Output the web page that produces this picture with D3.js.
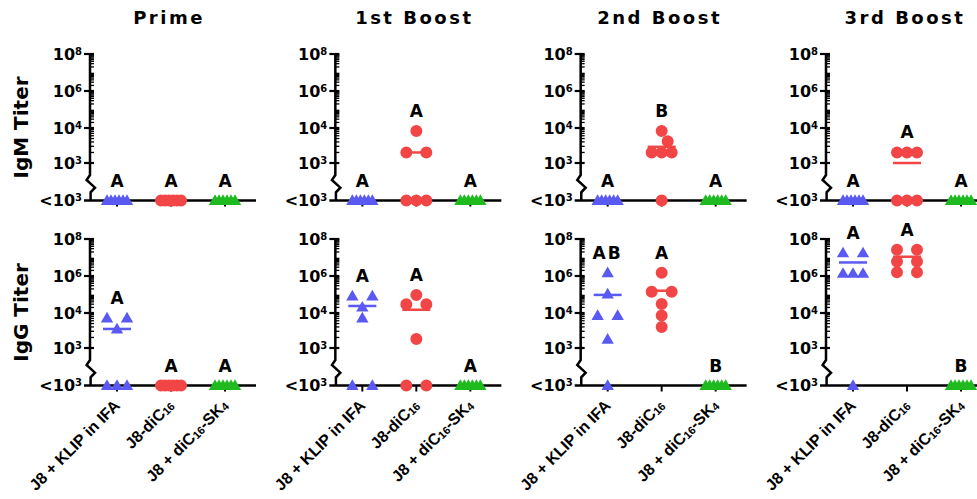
<!DOCTYPE html>
<html>
<head>
<meta charset="utf-8">
<script src="https://cdn.jsdelivr.net/npm/d3@7"></script>
<style>
  body { margin: 0; background: #fff; }
  text { font-family: "DejaVu Sans", sans-serif; font-weight: bold; fill: #000; }
</style>
</head>
<body>
<svg id="chart" width="977" height="499"></svg>
<script>
// immunisation time points (panels) and vaccine groups
const panels = ['Prime', '1st Boost', '2nd Boost', '3rd Boost'];
const groups = ['klip', 'diC16', 'sk4'];
const isotypes = ['IgM Titer', 'IgG Titer'];

// titres for six mice per group, one row per panel; 0 = below detection (<10^3)
const igmKlip  = [[0,0,0,0,0,0], [0,0,0,0,0,0], [0,0,0,0,0,0], [0,0,0,0,0,0]];
const igmDiC16 = [[0,0,0,0,0,0], [8200,2000,2000,0,0,0], [8200,4200,2000,2000,2000,0], [2000,2000,2000,0,0,0]];
const igmSk4   = [[0,0,0,0,0,0], [0,0,0,0,0,0], [0,0,0,0,0,0], [0,0,0,0,0,0]];

const iggKlip  = [[7200,7200,3500,0,0,0], [83000,83000,21000,7200,0,0],
                  [1500000,107000,8500,8500,1800,0], [18000000,18000000,1400000,1400000,1400000,0]];
const iggDiC16 = [[0,0,0,0,0,0], [94000,30000,30000,1800,0,0],
                  [1500000,140000,140000,31000,8500,4000], [26000000,26000000,6100000,6100000,1600000,1600000]];
const iggSk4   = [[0,0,0,0,0,0], [0,0,0,0,0,0], [0,0,0,0,0,0], [0,0,0,0,0,0]];

// group mean lines [klip, diC16, sk4] per panel
const igmMeans = [[0,0,0], [0,2000,0], [0,2900,0], [0,1000,0]];
const iggMeans = [[3500,0,0], [24000,15000,0], [95000,160000,0], [5400000,11000000,0]];

// statistics letters
const igmLetters = [['A','A','A'], ['A','A','A'], ['A','B','A'], ['A','A','A']];
const iggLetters = [['A','A','A'], ['A','A','A'], ['AB','A','B'], ['A','A','B']];

// y axis ticks; LOD stands for the "<10^3" row
const LOD = 100;
const tickValues = [1e8, 1e6, 1e4, 1e3, LOD];
const tickBase = ['10', '10', '10', '10', '<10'];
const tickSup = ['8', '6', '4', '3', '3'];

const colors = { klip: '#5a5af2', diC16: '#f24646', sk4: '#1fba1f' };
const shapes = { klip: d3.symbolTriangle, diC16: d3.symbolCircle, sk4: d3.symbolTriangle };
const sizes = { klip: 66, diC16: 113, sk4: 66 };

const dataSets = [
  { values: { klip: igmKlip, diC16: igmDiC16, sk4: igmSk4 }, means: igmMeans, letters: igmLetters },
  { values: { klip: iggKlip, diC16: iggDiC16, sk4: iggSk4 }, means: iggMeans, letters: iggLetters }
];

const svg = d3.select('#chart');
const rowTop = [54, 239];

const px = d3.scalePoint().domain(panels).range([90, 826]);
const x = d3.scalePoint().domain(groups).range([0, 162]).padding(0.5);
const y = d3.scaleLog().domain([LOD, 1e3, 1e4, 1e8]).range([146.5, 109, 74, 0]);
const yv = v => y(Math.max(v, LOD));

// minor ticks 2..9 x 10^k
const minor = [];
for (let k = 3; k < 8; k++) for (let m = 2; m < 10; m++) minor.push(m * Math.pow(10, k));

// spread points of equal value side by side, nudge rows that collide
function spread(values) {
  const rows = d3.groups(values, v => v).sort((a, b) => b[0] - a[0]);
  const placed = [];
  rows.forEach(([v, arr]) => {
    const k = arr.length, yy = yv(v);
    const s = k > 1 ? Math.min(20, 20 / (k - 1)) : 0;
    const base = d3.range(k).map(i => (i - (k - 1) / 2) * s);
    let c = 0;
    for (const cand of [0, 6, -6, 12, -12]) {
      const ok = base.every(b => placed.every(p => Math.hypot(p.dx - (b + cand), p.y - yy) >= 10.5));
      if (ok) { c = cand; break; }
    }
    base.forEach(b => placed.push({ v, y: yy, dx: b + c }));
  });
  return placed;
}

// panel titles
svg.selectAll('.title')
  .data(panels)
  .enter()
  .append('text')
  .attr('x', d => px(d) + 79)
  .attr('y', 24)
  .attr('text-anchor', 'middle')
  .style('font-size', '18px')
  .style('letter-spacing', '2.5px')
  .text(d => d);

// row titles
isotypes.forEach((name, r) => {
  svg.append('text')
    .attr('transform', `translate(27.5,${rowTop[r] + 73.5}) rotate(-90)`)
    .attr('text-anchor', 'middle')
    .style('font-size', '20px')
    .text(name);
});

dataSets.forEach((ds, r) => {
  panels.forEach((panel, p) => {
    const g = svg.append('g')
      .attr('transform', `translate(${px(panel)},${rowTop[r]})`);

    // y axis with a break above the <10^3 row
    g.append('path')
      .attr('d', `M0,${y(1e8)}V${y(1e3) + 12}l-3.4,5l8.4,7.7l-4.4,4.6V${y(LOD)}`)
      .attr('fill', 'none')
      .attr('stroke', '#000')
      .attr('stroke-width', 2.5);

    g.selectAll('.minor')
      .data(minor)
      .enter()
      .append('line')
      .attr('x1', 0).attr('x2', 4)
      .attr('y1', d => y(d)).attr('y2', d => y(d))
      .attr('stroke', '#000')
      .attr('stroke-width', 1.3);

    g.selectAll('.major')
      .data(tickValues.slice(0, 4))
      .enter()
      .append('line')
      .attr('x1', -6).attr('x2', 4)
      .attr('y1', d => y(d)).attr('y2', d => y(d))
      .attr('stroke', '#000')
      .attr('stroke-width', 2.2);

    // baseline (<10^3 row)
    g.append('line')
      .attr('x1', -6).attr('x2', 166)
      .attr('y1', y(LOD)).attr('y2', y(LOD))
      .attr('stroke', '#000')
      .attr('stroke-width', 2.5);

    g.selectAll('.xtick')
      .data(groups)
      .enter()
      .append('line')
      .attr('x1', d => x(d)).attr('x2', d => x(d))
      .attr('y1', y(LOD)).attr('y2', y(LOD) + 6)
      .attr('stroke', '#000')
      .attr('stroke-width', 2);

    const labels = g.selectAll('.ylab')
      .data(tickValues)
      .enter()
      .append('text')
      .attr('x', -8)
      .attr('y', d => y(d) + 5.8)
      .attr('text-anchor', 'end')
      .style('font-size', '16px');
    labels.append('tspan').text((d, i) => tickBase[i]);
    labels.append('tspan')
      .attr('dy', -5)
      .style('font-size', '10px')
      .text((d, i) => tickSup[i]);

    // mean lines
    g.selectAll('.mean')
      .data(groups.map((grp, i) => ({ grp, m: ds.means[p][i] })).filter(d => d.m > 0))
      .enter()
      .append('line')
      .attr('x1', d => x(d.grp) - 14).attr('x2', d => x(d.grp) + 14)
      .attr('y1', d => yv(d.m)).attr('y2', d => yv(d.m))
      .attr('stroke', d => colors[d.grp])
      .attr('stroke-width', 2.5);

    // points
    groups.forEach((grp, i) => {
      const pts = spread(ds.values[grp][p]);
      g.selectAll(null)
        .data(pts)
        .enter()
        .append('path')
        .attr('d', d3.symbol().type(shapes[grp]).size(sizes[grp]))
        .attr('transform', d => `translate(${x(grp) + d.dx},${d.y + (shapes[grp] === d3.symbolTriangle ? 1 : 0)})`)
        .attr('fill', colors[grp]);

      g.append('text')
        .attr('x', x(grp))
        .attr('y', yv(d3.max(ds.values[grp][p])) - 14)
        .attr('text-anchor', 'middle')
        .style('font-size', '17px')
        .style('letter-spacing', ds.letters[p][i].length > 1 ? '2px' : null)
        .text(ds.letters[p][i]);
    });

    // group names under the lower row
    if (r === 1) {
      const names = g.selectAll('.xlab')
        .data(groups)
        .enter()
        .append('text')
        .attr('transform', d => `translate(${x(d) + 4},${y(LOD) + 21}) rotate(-45)`)
        .attr('text-anchor', 'end')
        .style('font-family', '"Liberation Sans", Arial, sans-serif')
        .style('font-size', '16px');
      names.filter(d => d === 'klip').text('J8 + KLIP in IFA');
      const dc = names.filter(d => d === 'diC16');
      dc.append('tspan').text('J8-diC');
      dc.append('tspan').attr('dy', 1).style('font-size', '11px').text('16');
      const sk = names.filter(d => d === 'sk4');
      sk.append('tspan').text('J8 + diC');
      sk.append('tspan').attr('dy', 1).style('font-size', '11px').text('16');
      sk.append('tspan').attr('dy', -1).text('-SK');
      sk.append('tspan').attr('dy', 1).style('font-size', '11px').text('4');
    }
  });
});
</script>
</body>
</html>
